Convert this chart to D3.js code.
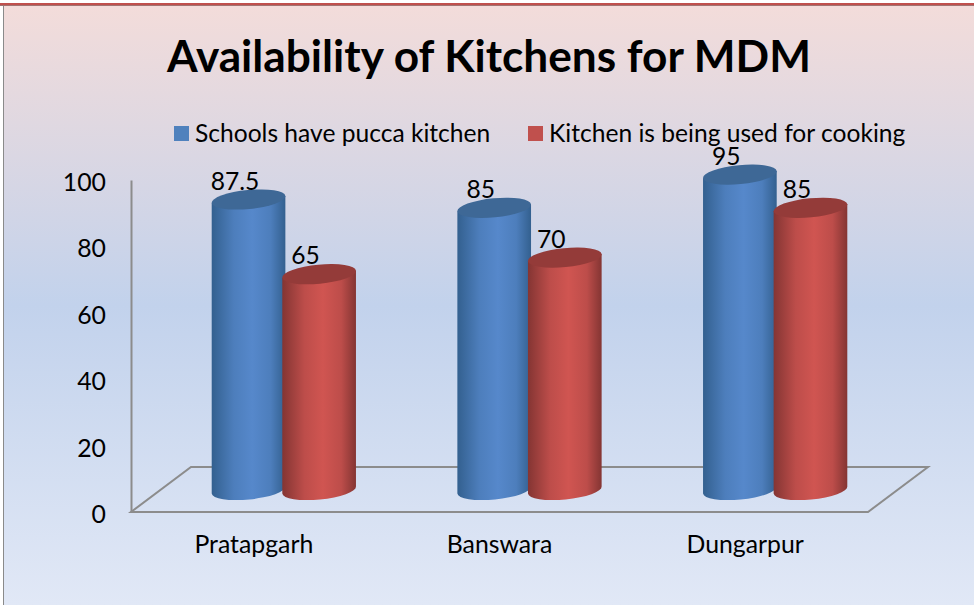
<!DOCTYPE html>
<html>
    <head>
        <meta charset="utf-8">
        <style>
          html, body {
            margin: 0;
            padding: 0;
            background: #fff;
          }
          svg {
            display: block;
          }
          text {
            font-family: Lato, "Open Sans", sans-serif;
            fill: #000;
          }
          .axis text {
            font-size: 24.8px;
          }
        </style>
    </head>
    <body>
        <script src="https://d3js.org/d3.v7.min.js"></script>
        <script>
          const categories = ['Pratapgarh', 'Banswara', 'Dungarpur'];
          const seriesNames = ['Schools have pucca kitchen', 'Kitchen is being used for cooking'];
          const puccaKitchen = [87.5, 85, 95];
          const usedForCooking = [65, 70, 85];
          const yTicks = [0, 20, 40, 60, 80, 100];

          const width = 974;
          const height = 605;
          const margin = { top: 180, right: 106, bottom: 93, left: 131 };
          // the floor is a sheared plane, bars stand halfway back on it
          const depth = { x: 60, y: -45 };
          const barShift = { x: 30, y: -22 };
          const tilt = -5.5;
          const rx = 37;
          const ry = 9.5;

          const svg = d3.select('body').append('svg')
            .attr('width', width)
            .attr('height', height);

          const defs = svg.append('defs');

          const bg = defs.append('linearGradient')
            .attr('id', 'bg')
            .attr('x1', 0).attr('y1', 0).attr('x2', 0).attr('y2', 1);
          [[0, '#f3dcda'], [0.5, '#c2d2ec'], [1, '#e1e8f6']].forEach(s => {
            bg.append('stop').attr('offset', s[0]).attr('stop-color', s[1]);
          });

          const seriesColors = [
            { id: 'blue', edge: '#33608f', mid: '#5688cb', top: '#3e6896', key: '#4f81bd' },
            { id: 'red', edge: '#843533', mid: '#d05551', top: '#943b39', key: '#c0504d' }
          ];
          seriesColors.forEach(c => {
            const g = defs.append('linearGradient').attr('id', c.id);
            [[0, c.edge], [0.3, d3.interpolateRgb(c.edge, c.mid)(0.75)], [0.55, c.mid],
             [0.8, d3.interpolateRgb(c.edge, c.mid)(0.75)], [1, c.edge]].forEach(s => {
              g.append('stop').attr('offset', s[0]).attr('stop-color', s[1]);
            });
          });

          // panel
          svg.append('rect')
            .attr('x', 4).attr('y', 6)
            .attr('width', width - 4).attr('height', height - 6)
            .style('fill', 'url(#bg)');
          svg.append('rect')
            .attr('x', 3).attr('y', 5)
            .attr('width', 1).attr('height', height - 5)
            .style('fill', '#8a8a8a');
          svg.append('rect')
            .attr('x', 0).attr('y', 5)
            .attr('width', width).attr('height', 1)
            .style('fill', '#8a8a8a');
          svg.append('rect')
            .attr('x', 0).attr('y', 3)
            .attr('width', width).attr('height', 2.4)
            .style('fill', '#c0504d');

          svg.append('text')
            .attr('x', 489)
            .attr('y', 72)
            .attr('text-anchor', 'middle')
            .style('font-size', '44.2px')
            .style('font-weight', 'bold')
            .text('Availability of Kitchens for MDM');

          // legend
          const legendX = [174, 528];
          const legend = svg.append('g')
            .selectAll('g')
            .data(seriesNames)
            .join('g')
            .attr('transform', (d, i) => `translate(${legendX[i]},126)`);
          legend.append('rect')
            .attr('width', 15)
            .attr('height', 15)
            .style('fill', (d, i) => seriesColors[i].key);
          legend.append('text')
            .attr('x', 21)
            .attr('y', 16)
            .style('font-size', '24.6px')
            .text(d => d);

          const xScale = d3.scaleBand()
            .domain(categories)
            .range([margin.left, width - margin.right]);

          const yScale = d3.scaleLinear()
            .domain([0, 100])
            .range([height - margin.bottom, margin.top]);

          const seriesScale = d3.scaleBand()
            .domain([0, 1])
            .range([0, xScale.bandwidth()])
            .paddingInner(0)
            .paddingOuter(0.74);

          const floorY = yScale(0);
          const x0 = xScale.range()[0];
          const x1 = xScale.range()[1];
          svg.append('path')
            .attr('d', `M${x0},${floorY}L${x1},${floorY}L${x1 + depth.x},${floorY + depth.y}L${x0 + depth.x},${floorY + depth.y}Z`)
            .style('fill', 'none')
            .style('stroke', '#8c8c8c')
            .style('stroke-width', 2);

          const yAxis = d3.axisLeft(yScale)
            .tickValues(yTicks)
            .tickSize(0)
            .tickPadding(25);
          const yG = svg.append('g')
            .attr('class', 'axis')
            .attr('transform', `translate(${margin.left},0)`)
            .call(yAxis);
          yG.select('.domain').style('stroke', '#8c8c8c').style('stroke-width', 2);
          yG.selectAll('.tick text').attr('dy', '0.42em');

          const xAxis = d3.axisBottom(xScale).tickSize(0).tickPadding(23);
          const xG = svg.append('g')
            .attr('class', 'axis')
            .attr('transform', `translate(0,${floorY})`)
            .call(xAxis);
          xG.select('.domain').remove();

          const rows = [];
          categories.forEach((c, i) => {
            [puccaKitchen[i], usedForCooking[i]].forEach((v, s) => {
              rows.push({ category: c, series: s, value: v });
            });
          });

          const cx = d => xScale(d.category) + seriesScale(d.series) + seriesScale.bandwidth() / 2 + barShift.x;
          const cy = d => yScale(d.value) + barShift.y;
          const dx = rx * Math.cos(tilt * Math.PI / 180);
          const dy = rx * Math.sin(tilt * Math.PI / 180);

          const bars = svg.append('g')
            .selectAll('g')
            .data(rows)
            .join('g');

          // side of the cylinder
          bars.append('path')
            .attr('d', d => {
              const base = floorY + barShift.y;
              return `M${cx(d) - dx},${cy(d) - dy}L${cx(d) + dx},${cy(d) + dy}` +
                `L${cx(d) + dx},${base + dy}` +
                `A${rx},${ry} ${tilt} 0 1 ${cx(d) - dx},${base - dy}Z`;
            })
            .style('fill', d => `url(#${seriesColors[d.series].id})`);

          bars.append('ellipse')
            .attr('rx', rx)
            .attr('ry', ry)
            .attr('transform', d => `translate(${cx(d)},${cy(d)}) rotate(${tilt})`)
            .style('fill', d => seriesColors[d.series].top);

          bars.append('text')
            .attr('x', d => cx(d) - 13.5)
            .attr('y', d => cy(d) - 10)
            .attr('text-anchor', 'middle')
            .style('font-size', '24.6px')
            .text(d => d.value);
        </script>
    </body>
</html>
